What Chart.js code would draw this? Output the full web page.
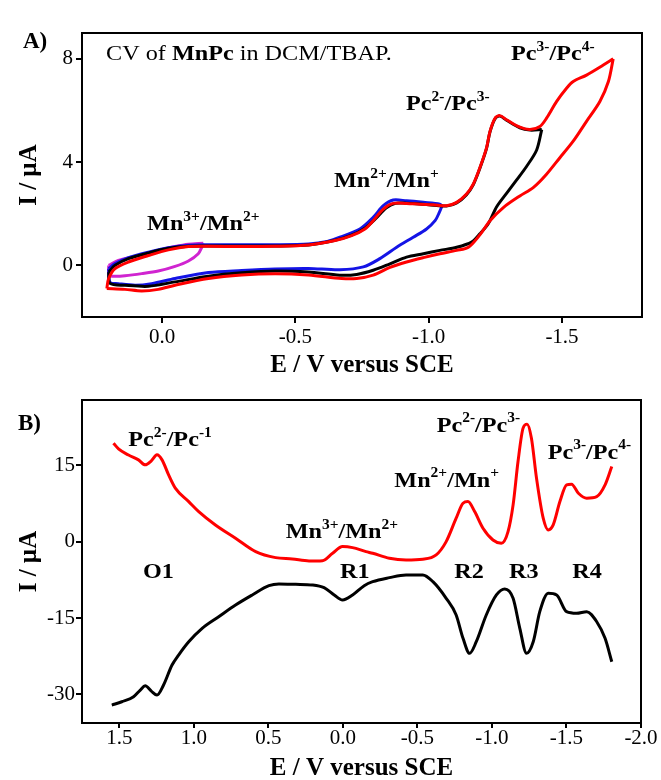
<!DOCTYPE html>
<html>
<head>
<meta charset="utf-8">
<script src="https://cdn.jsdelivr.net/npm/chart.js@4.4.1/dist/chart.umd.min.js"></script>
<style>
html,body{margin:0;padding:0;background:#fff;}
#wrap{position:relative;width:661px;height:780px;overflow:hidden;}
#cA{position:absolute;left:0;top:0;}
#cB{position:absolute;left:0;top:390px;}
</style>
</head>
<body>
<div id="wrap">
<canvas id="cA" width="661" height="390"></canvas>
<canvas id="cB" width="661" height="390"></canvas>
</div>
<script>
// ---------------- Panel A data (E / V, I / uA) ----------------
const aXTicks = [0.0, -0.5, -1.0, -1.5];
const aYTicks = [0, 4, 8];

const magUpE = [0.20, 0.164, 0.101, 0.014, -0.049, -0.099, -0.155];
const magUpI = [0.00, 0.19, 0.35, 0.58, 0.73, 0.82, 0.86];
const magLoE = [-0.155, -0.150, -0.136, -0.099, -0.049, 0.014, 0.076, 0.139, 0.176, 0.198, 0.20];
const magLoI = [0.86, 0.72, 0.45, 0.17, -0.04, -0.22, -0.32, -0.40, -0.42, -0.38, 0.00];

const bluUpE = [0.20, 0.176, 0.126, 0.051, -0.024, -0.099, -0.174, -0.30, -0.42, -0.549, -0.62, -0.667, -0.742, -0.792, -0.83, -0.867, -0.917, -0.98, -1.042, -1.05];
const bluUpI = [-0.13, 0.07, 0.30, 0.51, 0.68, 0.78, 0.80, 0.80, 0.80, 0.83, 0.93, 1.09, 1.41, 1.86, 2.31, 2.53, 2.50, 2.44, 2.37, 2.30];
const bluLoE = [-1.05, -1.040, -1.024, -0.992, -0.942, -0.88, -0.817, -0.755, -0.667, -0.549, -0.424, -0.299, -0.174, -0.049, 0.039, 0.101, 0.164, 0.195, 0.20];
const bluLoI = [2.30, 2.05, 1.73, 1.41, 1.09, 0.70, 0.26, -0.06, -0.17, -0.12, -0.14, -0.20, -0.28, -0.51, -0.71, -0.77, -0.71, -0.66, -0.13];

const blkUpE = [0.20, 0.176, 0.126, 0.051, -0.024, -0.099, -0.174, -0.30, -0.42, -0.549, -0.649, -0.711, -0.761, -0.80, -0.84, -0.875, -0.917, -0.967, -1.017, -1.067, -1.105, -1.142, -1.167, -1.192, -1.217, -1.23, -1.249, -1.267, -1.292, -1.342, -1.38, -1.424];
const blkUpI = [-0.26, 0.0, 0.26, 0.48, 0.66, 0.74, 0.75, 0.75, 0.75, 0.79, 0.97, 1.17, 1.44, 1.80, 2.22, 2.40, 2.41, 2.38, 2.33, 2.30, 2.42, 2.74, 3.12, 3.76, 4.53, 5.17, 5.68, 5.78, 5.62, 5.33, 5.24, 5.26];
const blkLoE = [-1.424, -1.405, -1.367, -1.33, -1.292, -1.255, -1.224, -1.192, -1.161, -1.105, -1.042, -0.98, -0.917, -0.855, -0.792, -0.73, -0.667, -0.549, -0.424, -0.299, -0.174, -0.049, 0.051, 0.139, 0.195, 0.20];
const blkLoI = [5.26, 4.47, 3.83, 3.31, 2.79, 2.27, 1.62, 1.22, 0.90, 0.70, 0.58, 0.45, 0.32, 0.06, -0.19, -0.35, -0.38, -0.26, -0.22, -0.29, -0.42, -0.64, -0.81, -0.77, -0.70, -0.26];

const redUpE = [0.207, 0.20, 0.176, 0.126, 0.051, -0.024, -0.099, -0.174, -0.299, -0.424, -0.549, -0.649, -0.711, -0.761, -0.792, -0.83, -0.867, -0.917, -0.967, -1.017, -1.067, -1.105, -1.142, -1.167, -1.192, -1.217, -1.23, -1.249, -1.267, -1.292, -1.342, -1.38, -1.417, -1.442, -1.48, -1.517, -1.542, -1.592, -1.655, -1.692];
const redUpI = [-0.90, -0.51, -0.13, 0.13, 0.38, 0.60, 0.73, 0.74, 0.73, 0.74, 0.79, 0.96, 1.15, 1.41, 1.73, 2.18, 2.40, 2.40, 2.37, 2.35, 2.31, 2.44, 2.76, 3.14, 3.78, 4.55, 5.19, 5.70, 5.80, 5.64, 5.35, 5.26, 5.38, 5.70, 6.35, 6.86, 7.12, 7.37, 7.76, 8.00];
const redLoE = [-1.692, -1.674, -1.642, -1.592, -1.542, -1.492, -1.442, -1.392, -1.342, -1.28, -1.23, -1.192, -1.149, -1.105, -1.042, -0.98, -0.917, -0.855, -0.792, -0.73, -0.674, -0.549, -0.424, -0.299, -0.174, -0.049, 0.014, 0.076, 0.139, 0.207];
const redLoI = [8.00, 7.12, 6.35, 5.58, 4.81, 4.17, 3.53, 3.01, 2.69, 2.24, 1.73, 1.18, 0.70, 0.58, 0.45, 0.30, 0.13, -0.08, -0.38, -0.51, -0.51, -0.37, -0.32, -0.37, -0.51, -0.77, -0.93, -0.99, -0.93, -0.90];

// ---------------- Panel B data ----------------
const bXTicks = [1.5, 1.0, 0.5, 0.0, -0.5, -1.0, -1.5, -2.0];
const bYTicks = [15, 0, -15, -30];

const bRedE = [1.539, 1.505, 1.438, 1.371, 1.326, 1.285, 1.247, 1.213, 1.169, 1.124, 1.034, 0.967, 0.855, 0.72, 0.585, 0.451, 0.339, 0.227, 0.137, 0.069, 0.002, -0.065, -0.155, -0.2, -0.312, -0.424, -0.536, -0.626, -0.693, -0.76, -0.806, -0.839, -0.884, -0.94, -1.007, -1.063, -1.108, -1.142, -1.175, -1.209, -1.236, -1.265, -1.299, -1.344, -1.378, -1.411, -1.456, -1.501, -1.534, -1.58, -1.636, -1.703, -1.759, -1.804];
const bRedI = [19.33, 18.2, 17.0, 16.05, 15.07, 15.85, 17.03, 16.05, 13.1, 10.5, 7.86, 5.9, 3.28, 0.67, -1.96, -3.14, -3.4, -3.79, -3.73, -2.28, -0.98, -1.18, -1.96, -2.28, -3.26, -3.6, -3.46, -2.61, 0, 4.6, 7.54, 7.86, 5.9, 2.63, 0.33, -0.33, 1.96, 7.21, 15.72, 22.28, 23.06, 20.3, 12.46, 4.6, 2.3, 3.28, 7.86, 11.14, 11.28, 9.5, 8.53, 8.84, 11.14, 14.73];

const bBlkE = [1.55, 1.483, 1.404, 1.359, 1.326, 1.285, 1.247, 1.203, 1.146, 1.102, 1.034, 0.944, 0.833, 0.72, 0.608, 0.496, 0.429, 0.316, 0.204, 0.126, 0.058, 0.002, -0.065, -0.143, -0.2, -0.312, -0.424, -0.536, -0.604, -0.693, -0.76, -0.806, -0.85, -0.895, -0.962, -1.03, -1.086, -1.142, -1.187, -1.232, -1.277, -1.321, -1.378, -1.434, -1.501, -1.568, -1.636, -1.703, -1.759, -1.804];
const bBlkI = [-32.08, -31.43, -30.45, -29.13, -28.29, -29.33, -30.12, -28.15, -24.22, -22.26, -19.65, -17.01, -14.73, -12.44, -10.47, -8.64, -8.31, -8.38, -8.51, -9.04, -10.47, -11.45, -10.47, -8.64, -7.86, -7.07, -6.54, -6.54, -7.86, -11.12, -14.4, -18.98, -21.93, -19.65, -14.4, -10.47, -9.29, -11.12, -17.01, -21.93, -19.65, -13.75, -10.14, -10.47, -13.75, -14.07, -13.75, -15.72, -18.98, -23.58];

// ---------------- Annotations (anchored in data coordinates) ----------------
const aNotes = [
  {text: 'CV of **MnPc** in DCM/TBAP.', x: 0.21, y: 7.96, bold: false},
  {text: 'Pc^{3-}/Pc^{4-}', x: -1.309, y: 7.96, bold: true},
  {text: 'Pc^{2-}/Pc^{3-}', x: -0.915, y: 6.02, bold: true},
  {text: 'Mn^{2+}/Mn^{+}', x: -0.645, y: 3.04, bold: true},
  {text: 'Mn^{3+}/Mn^{2+}', x: 0.056, y: 1.37, bold: true}
];
const bNotes = [
  {text: 'Pc^{2-}/Pc^{-1}', x: 1.44, y: 18.8, bold: true},
  {text: 'O1', x: 1.341, y: -7.2, bold: true},
  {text: 'Mn^{3+}/Mn^{2+}', x: 0.384, y: 0.65, bold: true},
  {text: 'R1', x: 0.019, y: -7.2, bold: true},
  {text: 'Mn^{2+}/Mn^{+}', x: -0.345, y: 10.8, bold: true},
  {text: 'R2', x: -0.747, y: -7.1, bold: true},
  {text: 'R3', x: -1.114, y: -7.1, bold: true},
  {text: 'R4', x: -1.539, y: -7.1, bold: true},
  {text: 'Pc^{2-}/Pc^{3-}', x: -0.629, y: 21.6, bold: true},
  {text: 'Pc^{3-}/Pc^{4-}', x: -1.374, y: 16.3, bold: true}
];

const FONT = '"Liberation Serif", "Times New Roman", Times, serif';
Chart.defaults.font.family = FONT;
Chart.defaults.color = '#000';

function pts(E, I) { return E.map((e, i) => ({x: e, y: I[i]})); }

function richSegments(s) {
  const segs = []; let tog = false; let buf = ''; let i = 0;
  const flush = () => { if (buf) { segs.push({t: buf, sup: false, tog}); buf = ''; } };
  while (i < s.length) {
    if (s.startsWith('**', i)) { flush(); tog = !tog; i += 2; continue; }
    if (s.startsWith('^{', i)) { flush(); const j = s.indexOf('}', i); segs.push({t: s.slice(i + 2, j), sup: true, tog}); i = j + 1; continue; }
    buf += s[i]; i++;
  }
  flush();
  return segs;
}
function drawRich(ctx, x, y, s, size, baseBold, hs) {
  ctx.save();
  ctx.translate(x, y);
  ctx.scale(hs, 1);
  ctx.fillStyle = '#000';
  ctx.textBaseline = 'alphabetic';
  ctx.textAlign = 'left';
  let cx = 0;
  for (const g of richSegments(s)) {
    const bold = baseBold !== g.tog;
    const fs = g.sup ? size * 0.64 : size;
    ctx.font = (bold ? 'bold ' : '') + fs + 'px ' + FONT;
    ctx.fillText(g.t, cx, g.sup ? -size * 0.42 : 0);
    cx += ctx.measureText(g.t).width;
  }
  ctx.restore();
}
function makeDecor(notes, panelText, px, py, size) {
  return {
    id: 'decor',
    afterDraw(chart) {
      const {ctx, chartArea: a, scales} = chart;
      ctx.save();
      ctx.strokeStyle = '#000';
      ctx.lineWidth = 2;
      ctx.strokeRect(a.left, a.top, a.right - a.left, a.bottom - a.top);
      ctx.restore();
      for (const n of notes) {
        drawRich(ctx, scales.x.getPixelForValue(n.x), scales.y.getPixelForValue(n.y), n.text, size, n.bold, 1.1);
      }
      drawRich(ctx, px, py, panelText, 23, true, 1.0);
    }
  };
}
function line(data, color, extra) {
  return Object.assign({data, borderColor: color, backgroundColor: color, borderWidth: 3,
    showLine: true, pointRadius: 0, fill: false, tension: 0.3}, extra || {});
}
function setTicks(arr) {
  return (scale) => { scale.ticks = arr.slice().sort((p, q) => p - q).map(v => ({value: v})); };
}
const tickGrid = {display: true, drawOnChartArea: false, drawTicks: true, tickLength: 6, color: '#000', lineWidth: 2};

// ---------------- Chart A ----------------
new Chart(document.getElementById('cA'), {
  type: 'scatter',
  data: {
    datasets: [
      line(pts(redUpE, redUpI), '#ff0000'),
      line(pts(redLoE, redLoI), '#ff0000'),
      line(pts(blkUpE, blkUpI), '#000000'),
      line(pts(blkLoE, blkLoI), '#000000'),
      line(pts(bluUpE, bluUpI), '#1414e6'),
      line(pts(bluLoE, bluLoI), '#1414e6'),
      line(pts(magUpE, magUpI), '#d024d0'),
      line(pts(magLoE, magLoI), '#d024d0')
    ]
  },
  options: {
    responsive: false, animation: false,
    layout: {padding: {left: 0, right: 19, top: 33, bottom: 0}},
    plugins: {legend: {display: false}, tooltip: {enabled: false}},
    scales: {
      x: {
        type: 'linear', reverse: true, min: -1.8, max: 0.3,
        afterBuildTicks: setTicks(aXTicks),
        afterFit: (s) => { s.height = 73; s.paddingLeft = 0; s.paddingRight = 0; },
        grid: tickGrid, border: {display: false},
        ticks: {font: {size: 21}, padding: 2, maxRotation: 0, autoSkip: false, callback: (v) => Number(v).toFixed(1)},
        title: {display: true, text: 'E / V versus SCE', font: {size: 25, weight: 'bold', lineHeight: 1}, padding: {top: 0, bottom: 12}}
      },
      y: {
        type: 'linear', min: -2.0, max: 9.0,
        afterBuildTicks: setTicks(aYTicks),
        afterFit: (s) => { s.width = 82; s.paddingTop = 0; s.paddingBottom = 0; },
        grid: tickGrid, border: {display: false},
        ticks: {font: {size: 21}, padding: 3, autoSkip: false, callback: (v) => String(v)},
        title: {display: true, text: 'I / µA', font: {size: 25, weight: 'bold', lineHeight: 1}, padding: {top: 17, bottom: 0}}
      }
    }
  },
  plugins: [makeDecor(aNotes, 'A)', 23, 48, 22)]
});

// ---------------- Chart B ----------------
new Chart(document.getElementById('cB'), {
  type: 'scatter',
  data: {
    datasets: [
      line(pts(bRedE, bRedI), '#ff0000', {cubicInterpolationMode: 'monotone'}),
      line(pts(bBlkE, bBlkI), '#000000', {cubicInterpolationMode: 'monotone'})
    ]
  },
  options: {
    responsive: false, animation: false,
    layout: {padding: {left: 0, right: 20, top: 10, bottom: 0}},
    plugins: {legend: {display: false}, tooltip: {enabled: false}},
    scales: {
      x: {
        type: 'linear', reverse: true, min: -2.0, max: 1.75,
        afterBuildTicks: setTicks(bXTicks),
        afterFit: (s) => { s.height = 57; s.paddingLeft = 0; s.paddingRight = 0; },
        grid: Object.assign({}, tickGrid, {tickLength: 5}), border: {display: false},
        ticks: {font: {size: 21}, padding: -2, maxRotation: 0, autoSkip: false, callback: (v) => Number(v).toFixed(1)},
        title: {display: true, text: 'E / V versus SCE', font: {size: 25, weight: 'bold', lineHeight: 0.8}, padding: {top: 0, bottom: 1}}
      },
      y: {
        type: 'linear', min: -35.6, max: 27.8,
        afterBuildTicks: setTicks(bYTicks),
        afterFit: (s) => { s.width = 82; s.paddingTop = 0; s.paddingBottom = 0; },
        grid: tickGrid, border: {display: false},
        ticks: {font: {size: 21}, padding: 1, autoSkip: false, callback: (v) => String(v)},
        title: {display: true, text: 'I / µA', font: {size: 25, weight: 'bold', lineHeight: 1}, padding: {top: 17, bottom: 0}}
      }
    }
  },
  plugins: [makeDecor(bNotes, 'B)', 18, 40, 22)]
});
</script>
</body>
</html>
